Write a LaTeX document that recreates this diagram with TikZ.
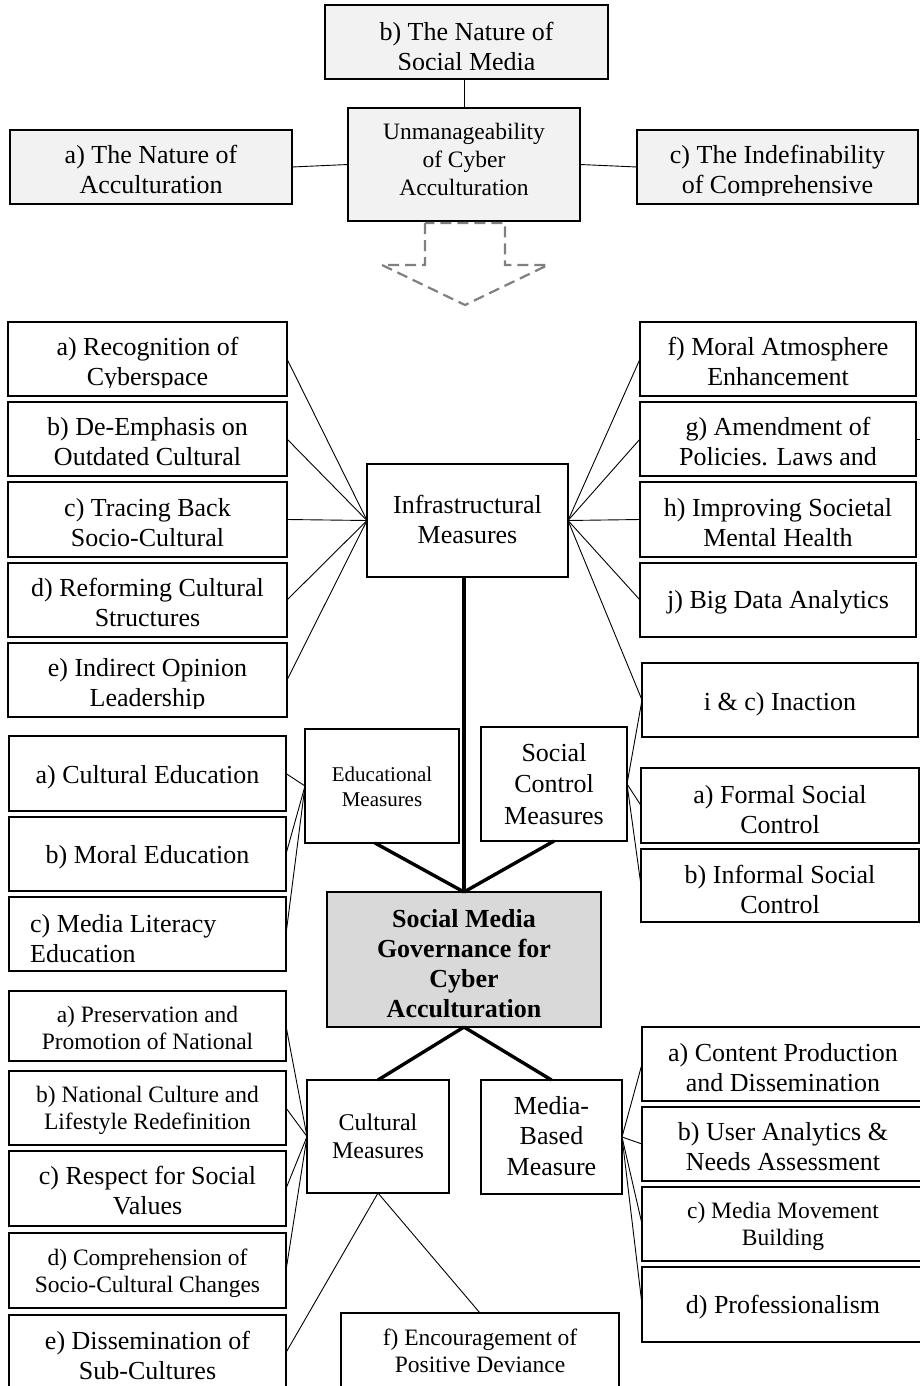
\documentclass[tikz,border=0pt]{standalone}
\usepackage{fontspec}
\setmainfont{Liberation Serif}
\definecolor{topgray}{HTML}{F2F2F2}
\definecolor{ctrgray}{HTML}{D9D9D9}
\definecolor{dashgray}{HTML}{808080}
\newcommand\fA{\fontsize{26}{30}\selectfont}
\newcommand\fB{\fontsize{23.5}{27.5}\selectfont}
\newcommand\fC{\fontsize{21}{25}\selectfont}
\newcommand\st{\rule{0pt}{22pt}}
\tikzset{
  boxst/.style={draw=black,line width=1.1pt,inner sep=0pt,outer sep=0pt},
  topbox/.style={fill=topgray},
  ctrbox/.style={fill=ctrgray},
  plainbox/.style={fill=white},
  txt/.style={inner sep=0pt,align=center},
  conn/.style={line width=0.9pt,black},
  strong/.style={line width=3.4pt,black},
  dasharrow/.style={dashgray,line width=2.2pt,dash pattern=on 11pt off 6pt,line join=miter}
}
% name, x1, y1, x2, y2, box style, text options, first baseline, text
\newcommand\tbox[9]{%
  \node[boxst,#6,minimum width={#4-#2},minimum height={#5-#3}] (#1) at ({(#2+#4)/2},{(#3+#5)/2}) {};
  \begin{scope}
    \clip ({#2},{#3}) rectangle ({#4},{#5-9});
    \node[txt,anchor=north,#7] (#1t) at ({(#2+#4)/2},{#8-22}) {\st #9};
  \end{scope}}
\begin{document}
\begin{tikzpicture}[x=1pt,y=-1pt]
\useasboundingbox (0,0) rectangle (920,1386);
\clip (0,0) rectangle (920,1386);
\fill[white] (0,0) rectangle (920,1386);

% top
\tbox{tb}{325}{5}{608}{79}{topbox}{font=\fA}{40}{b) The Nature of\\Social Media}
\tbox{um}{348}{108}{580}{221}{topbox}{font=\fontsize{23.5}{28}\selectfont}{139}{Unmanageability\\of Cyber\\Acculturation}
\tbox{ta}{10}{130}{292}{204}{topbox}{font=\fA}{163}{a) The Nature of\\Acculturation}
\tbox{tc}{637}{130}{918}{204}{topbox}{font=\fA}{163}{c) The Indefinability\\of Comprehensive}

\draw[dasharrow] (425,223) -- (425,265) -- (382,265) -- (465,305) -- (548,265) -- (505,265) -- (505,223) -- cycle;

% infrastructural
\tbox{inf}{367}{464}{568}{577}{plainbox}{font=\fA}{513}{Infrastructural\\Measures}
\tbox{la}{8}{322}{287}{396}{plainbox}{font=\fA}{355}{a) Recognition of\\Cyberspace}
\tbox{lb}{8}{402}{287}{476}{plainbox}{font=\fA}{435}{b) De-Emphasis on\\Outdated Cultural}
\tbox{lc}{8}{482}{287}{557}{plainbox}{font=\fA}{516}{c) Tracing Back\\Socio-Cultural}
\tbox{ld}{8}{563}{287}{637}{plainbox}{font=\fA}{596}{d) Reforming Cultural\\Structures}
\tbox{le}{8}{643}{287}{717}{plainbox}{font=\fA}{676}{e) Indirect Opinion\\Leadership}
\tbox{rf}{640}{322}{916}{396}{plainbox}{font=\fA}{355}{f) Moral Atmosphere\\Enhancement}
\tbox{rg}{640}{402}{916}{476}{plainbox}{font=\fA}{435}{g) Amendment of\\Policies. Laws and}
\tbox{rh}{640}{482}{916}{557}{plainbox}{font=\fA}{516}{h) Improving Societal\\Mental Health}
\tbox{rj}{640}{563}{916}{637}{plainbox}{font=\fA}{608}{j) Big Data Analytics}
\tbox{ric}{642}{663}{918}{737}{plainbox}{font=\fA}{710}{i \& c) Inaction}

% educational
\tbox{edu}{305}{729}{459}{843}{plainbox}{font=\fC}{781}{Educational\\Measures}
\tbox{ea}{9}{736}{286}{811}{plainbox}{font=\fA}{783}{a) Cultural Education}
\tbox{eb}{9}{817}{286}{891}{plainbox}{font=\fA}{863}{b) Moral Education}
\node[boxst,plainbox,minimum width=277,minimum height=74] (ec) at (147.5,934) {};
\node[txt,align=left,anchor=north west,font=\fA] (ect) at (30,{932-22}) {\st c) Media Literacy\\Education};

% social control
\tbox{soc}{481}{727}{627}{841}{plainbox}{font=\fontsize{26}{31.5}\selectfont}{761}{Social\\Control\\Measures}
\tbox{sa}{641}{768}{919}{843}{plainbox}{font=\fA}{803}{a) Formal Social\\Control}
\tbox{sb}{641}{849}{919}{922}{plainbox}{font=\fA}{883}{b) Informal Social\\Control}

% central
\tbox{ctr}{327}{892}{601}{1027}{ctrbox}{font=\fA\bfseries}{927}{Social Media\\Governance for\\Cyber\\Acculturation}

% cultural
\tbox{cm}{307}{1080}{449}{1193}{plainbox}{font=\fontsize{24}{28.5}\selectfont}{1130}{Cultural\\Measures}
\tbox{ca}{9}{991}{286}{1061}{plainbox}{font=\fB}{1022}{a) Preservation and\\Promotion of National}
\tbox{cb}{9}{1071}{286}{1145}{plainbox}{font=\fB}{1102}{b) National Culture and\\Lifestyle Redefinition}
\tbox{cc}{9}{1151}{286}{1226}{plainbox}{font=\fA}{1184}{c) Respect for Social\\Values}
\tbox{cd}{9}{1233}{286}{1308}{plainbox}{font=\fB}{1265}{d) Comprehension of\\Socio-Cultural Changes}
\tbox{ce}{9}{1315}{286}{1390}{plainbox}{font=\fA}{1349}{e) Dissemination of\\Sub-Cultures}
\tbox{cf}{341}{1313}{619}{1388}{plainbox}{font=\fB}{1345}{f) Encouragement of\\Positive Deviance}

% media-based
\tbox{mb}{481}{1080}{622}{1194}{plainbox}{font=\fontsize{26}{30.5}\selectfont}{1114}{Media-\\Based\\Measure}
\tbox{ma}{642}{1027}{924}{1101}{plainbox}{font=\fA}{1061}{a) Content Production\\and Dissemination}
\tbox{mu}{642}{1107}{924}{1181}{plainbox}{font=\fA}{1140}{b) User Analytics \&\\Needs Assessment}
\tbox{mc}{642}{1187}{924}{1261}{plainbox}{font=\fB}{1218}{c) Media Movement\\Building}
\tbox{md}{642}{1267}{924}{1342}{plainbox}{font=\fA}{1313}{d) Professionalism}

% connectors top
\draw[conn] (um.north |- tb.south) -- (um.north);
\draw[conn] (ta.east) -- (um.west);
\draw[conn] (um.east) -- (tc.west);

% infrastructural connectors
\foreach \n in {la,lb,lc,ld,le} \draw[conn] (inf.west) -- (\n.east);
\foreach \n in {rf,rg,rh,rj,ric} \draw[conn] (inf.east) -- (\n.west);
\draw[conn] (rg.east) -- ++(5,0);

% educational / social
\foreach \n in {ea,eb,ec} \draw[conn] (edu.west) -- (\n.east);
\foreach \n in {ric,sa,sb} \draw[conn] (soc.east) -- (\n.west);

% cultural / media
\foreach \n in {ca,cb,cc,cd} \draw[conn] (cm.west) -- (\n.east);
\draw[conn] (cm.south) -- (ce.east);
\draw[conn] (cm.south) -- (cf.north);
\foreach \n in {ma,mu,mc,md} \draw[conn] (mb.east) -- (\n.west);

% strong connectors
\draw[strong] (ctr.north |- inf.south) -- (ctr.north);
\draw[strong] ([xshift=-7pt]edu.south) -- (ctr.north);
\draw[strong] (soc.south) -- (ctr.north);
\draw[strong] (ctr.south) -- (cm.north);
\draw[strong] (ctr.south) -- (mb.north);
\end{tikzpicture}
\end{document}
